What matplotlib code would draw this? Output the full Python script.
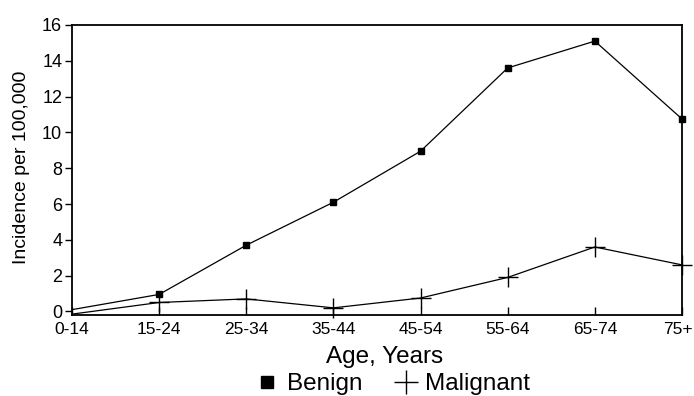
import numpy as np
import matplotlib.pyplot as plt
import matplotlib.transforms as mtransforms
from matplotlib.lines import Line2D

# age groups and incidence per 100,000
age_groups = ['0-14', '15-24', '25-34', '35-44', '45-54', '55-64', '65-74', '75+']
benign = [0.1, 0.95, 3.7, 6.1, 8.95, 13.6, 15.1, 10.75]
malignant = [-0.15, 0.5, 0.7, 0.2, 0.75, 1.9, 3.6, 2.6]

plt.rcParams['font.family'] = ['Liberation Sans', 'DejaVu Sans']

fig = plt.figure(figsize=(6.94, 3.96), dpi=100)
ax = fig.add_axes([0.1037, 0.2045, 0.879, 0.7324])

x = np.arange(len(age_groups))
# no markers at the first age group, as in the source figure
ax.plot(x, benign, color='black', lw=0.9, marker='s', ms=5,
        mfc='black', mec='black', markevery=list(range(1, len(x))), clip_on=False)
ax.plot(x, malignant, color='black', lw=0.9, marker='+', ms=14, mew=1.0,
        markevery=list(range(1, len(x))), clip_on=False)

ax.set_xlim(0, len(age_groups) - 1)
ax.set_ylim(-0.2, 16)
ax.set_xticks(x)
ax.set_xticklabels(age_groups)
ax.set_yticks(np.arange(0, 17, 2))

ax.tick_params(axis='x', direction='in', length=6, width=1, labelsize=12.5, pad=5)
ax.tick_params(axis='y', direction='out', length=5, width=1, labelsize=13, pad=2)
for s in ax.spines.values():
    s.set_linewidth(1.3)

# last label sits against the figure edge, nudge it left a little
last = ax.get_xticklabels()[-1]
last.set_transform(last.get_transform() +
                   mtransforms.ScaledTranslation(-4 / 100, 0, fig.dpi_scale_trans))

ax.set_xlabel('Age, Years', fontsize=17.5)
ax.xaxis.set_label_coords(0.513, -0.145)
ax.xaxis.label.set_verticalalignment('center')
ax.set_ylabel('Incidence per 100,000', fontsize=14)
ax.yaxis.set_label_coords(-0.082, 0.509)
ax.yaxis.label.set_verticalalignment('center')

handles = [
    Line2D([], [], ls='none', marker='s', ms=9, color='black'),
    Line2D([], [], ls='none', marker='+', ms=17, mew=1.0, color='black'),
]
fig.legend(handles, ['Benign', 'Malignant'], loc='center',
           bbox_to_anchor=(0.566, 0.03), ncol=2, frameon=False, fontsize=17.5,
           handletextpad=0.3, columnspacing=1.3, handlelength=1.0,
           borderpad=0, borderaxespad=0)

fig.savefig('out.png', dpi=100)
